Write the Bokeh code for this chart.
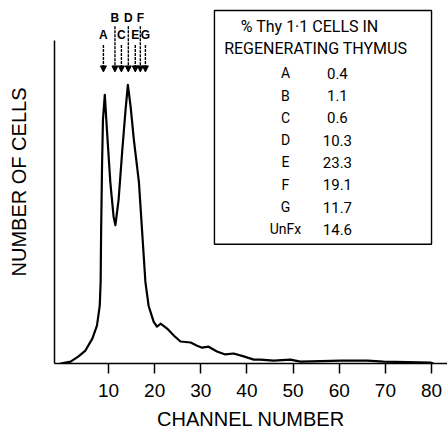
from bokeh.plotting import figure
from bokeh.models import Range1d, FixedTicker, Arrow, NormalHead, ColumnDataSource, BoxAnnotation
from bokeh.core.properties import value
from bokeh.embed import file_html
from bokeh.resources import INLINE

# ---- data ----
channel = [-0.4, 1.8, 3.5, 5.0, 6.5, 7.5, 8.1, 8.3, 8.4, 8.6, 8.8, 9.2, 9.7, 10.4, 11.1, 11.5,
           12.2, 13.0, 13.7, 14.2, 14.8, 15.5, 16.6, 17.3, 18.0, 18.7, 19.8, 20.5, 21.3, 22.7,
           24.2, 25.6, 27.8, 29.2, 30.3, 31.7, 33.5, 35.3, 37.1, 39.3, 41.5, 42.9, 45.8, 49.4,
           51.6, 60.3, 66.1, 69.6, 79.8, 80.4]
cells = [0.0, 0.6, 2.2, 4.0, 7.7, 11.7, 17.8, 25.2, 40.6, 60.9, 75.4, 83.1, 71.4, 56.0, 45.5, 42.8,
         50.8, 66.2, 78.5, 86.2, 79.4, 69.2, 56.0, 40.6, 25.2, 17.8, 12.9, 11.4, 12.3, 10.8,
         8.6, 6.8, 6.5, 5.5, 4.9, 5.2, 3.7, 2.8, 3.1, 2.2, 1.2, 1.2, 0.9, 1.2,
         0.6, 0.9, 0.9, 0.6, 0.3, 0.0]

gate_channels = [8.9, 11.4, 12.8, 14.3, 15.8, 16.9, 18.0]
gate_labels = ["A", "B", "C", "D", "E", "F", "G"]

table_labels = ["A", "B", "C", "D", "E", "F", "G", "UnFx"]
table_values = [0.4, 1.1, 0.6, 10.3, 23.3, 19.1, 11.7, 14.6]

x_ticks = [10, 20, 30, 40, 50, 60, 70, 80]

FONT = "Liberation Sans"
BOXFONT = "Roboto"

p = figure(width=447, height=432, output_backend="svg", toolbar_location=None,
           x_range=Range1d(-1.7, 83.46), y_range=Range1d(0, 112.3),
           min_border_left=54, min_border_right=0, min_border_top=0, min_border_bottom=67)
p.outline_line_color = None
p.xgrid.visible = False
p.ygrid.visible = False
p.background_fill_color = "white"
p.border_fill_color = "white"

# x axis
xa = p.xaxis[0]
xa.ticker = FixedTicker(ticks=x_ticks)
xa.major_tick_out = 10
xa.major_tick_in = 0
xa.minor_tick_line_color = None
xa.axis_line_width = 1.5
xa.major_tick_line_width = 1.5
xa.axis_line_color = "black"
xa.major_tick_line_color = "black"
xa.major_label_text_font = FONT
xa.major_label_text_font_size = "19px"
xa.major_label_text_color = "black"
xa.major_label_standoff = 10
xa.major_label_text_line_height = 0.8
xa.axis_label = "CHANNEL NUMBER"
xa.axis_label_text_font = FONT
xa.axis_label_text_font_size = "20px"
xa.axis_label_text_font_style = "normal"
xa.axis_label_text_color = "black"
xa.axis_label_text_line_height = 0.8
xa.axis_label_standoff = 8

# y axis
ya = p.yaxis[0]
ya.ticker = FixedTicker(ticks=[])
ya.bounds = (0, 100)
ya.axis_line_width = 1.5
ya.axis_line_color = "black"
ya.minor_tick_line_color = None
ya.major_tick_line_color = None
ya.major_label_text_font_size = "0px"
ya.axis_label = "NUMBER OF CELLS"
ya.axis_label_text_font = FONT
ya.axis_label_text_font_size = "20px"
ya.axis_label_text_font_style = "normal"
ya.axis_label_text_color = "black"
ya.axis_label_standoff = 25

# histogram curve
p.line(channel, cells, line_color="black", line_width=2.2, line_join="round")

# gate arrows
row_hi = [i % 2 == 1 for i in range(len(gate_channels))]
arrow_src = ColumnDataSource(dict(
    x0=gate_channels, x1=gate_channels,
    y0=[104.3 if h else 98.5 for h in row_hi],
    y1=[90.2] * len(gate_channels)))
p.add_layout(Arrow(source=arrow_src, x_start="x0", y_start="y0", x_end="x1", y_end="y1",
                   line_color="black", line_width=1.4, line_dash="3 1",
                   end=NormalHead(size=6, fill_color="black", line_color="black", line_width=1)))
p.text(x=gate_channels, y=[106.8 if h else 101.5 for h in row_hi], text=gate_labels,
       text_font=value(FONT), text_font_size=value("12px"), text_font_style="bold",
       text_align="center", text_baseline="middle", text_color="black")

# table box
p.add_layout(BoxAnnotation(left=32.96, right=80.0, bottom=36.9, top=109.2,
                           fill_color=None, line_color="black", line_alpha=1.0, line_width=1.4))
p.text(x=[53.6, 54.9], y=[104.2, 97.3],
       text=["% Thy 1\u00b71 CELLS IN", "REGENERATING THYMUS"],
       text_font=value(BOXFONT), text_font_size=value("16px"),
       text_align="center", text_baseline="middle", text_color="black")
row_y = [89.8 - 6.9 * i for i in range(len(table_labels))]
p.text(x=[48.35] * len(table_labels), y=row_y, text=table_labels,
       text_font=value(BOXFONT), text_font_size=value("14px"),
       text_align="center", text_baseline="middle", text_color="black")
p.text(x=[59.6] * len(table_values), y=row_y, text=["%.1f" % v for v in table_values],
       text_font=value(BOXFONT), text_font_size=value("15px"),
       text_align="center", text_baseline="middle", text_color="black")

open("out.html", "w").write(file_html(p, INLINE))
